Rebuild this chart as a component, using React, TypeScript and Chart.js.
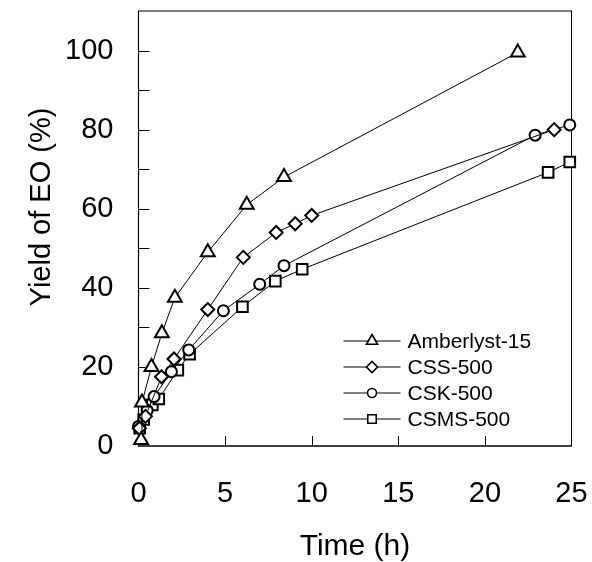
import React, { useEffect, useRef } from 'react';
import { Chart, registerables } from 'chart.js';
import { drawPoint } from 'chart.js/helpers';

Chart.register(...registerables);

const seriesNames = ['Amberlyst-15', 'CSS-500', 'CSK-500', 'CSMS-500'];
const seriesStyles = ['triangle', 'rectRot', 'circle', 'rect'];
const seriesRadius = [8, 6.5, 5.5, 7.5];
const legendRadius = [6.5, 5.5, 4.5, 6];

const amberlystTime = [0.15, 0.2, 0.75, 1.35, 2.1, 4.0, 6.25, 8.4, 21.9];
const amberlystYield = [1.5, 11, 20, 28.5, 37.5, 49, 61, 68, 99.5];

const cssTime = [0.05, 0.4, 1.33, 2.05, 4.0, 6.05, 7.95, 9.05, 10.0, 24.0];
const cssYield = [4.5, 7.5, 17.5, 22, 34.5, 47.7, 54, 56.2, 58.3, 80];

const cskTime = [0.0, 0.5, 0.9, 1.9, 2.9, 4.9, 7.0, 8.4, 22.9, 24.9];
const cskYield = [4.9, 9, 12.5, 18.8, 24.3, 34.2, 40.9, 45.6, 78.6, 81.2];

const csmsTime = [0.07, 0.3, 0.8, 1.17, 2.27, 2.95, 6.0, 7.9, 9.45, 23.65, 24.9];
const csmsYield = [4.5, 6.7, 10.4, 11.9, 19.2, 23.2, 35.2, 41.7, 44.7, 69.2, 71.8];

const xTicks = [0, 5, 10, 15, 20, 25];
const yLabelTicks = [0, 20, 40, 60, 80, 100];
const yTitle = 'Yield of EO (%)';
const xTitle = 'Time (h)';

const FONT = "'Liberation Sans', Arial, sans-serif";

const toPoints = (t: number[], v: number[]) => t.map((x, i) => ({ x, y: v[i] }));

const zeroPad = (s: any) => {
  s.paddingTop = 0;
  s.paddingBottom = 0;
  s.paddingLeft = 0;
  s.paddingRight = 0;
};

const decorPlugin = {
  id: 'decor',
  beforeDatasetsDraw(chart: any) {
    const { ctx, chartArea } = chart;
    const xs = chart.scales.x;
    const ys = chart.scales.y;
    ctx.save();
    ctx.strokeStyle = '#000';
    ctx.lineWidth = 1;
    ctx.strokeRect(chartArea.left, chartArea.top, chartArea.right - chartArea.left, chartArea.bottom - chartArea.top);
    ctx.lineWidth = 1.2;
    ctx.beginPath();
    ctx.moveTo(chartArea.left, chartArea.top);
    ctx.lineTo(chartArea.left, chartArea.bottom);
    ctx.lineTo(chartArea.right, chartArea.bottom);
    ctx.stroke();
    ctx.lineWidth = 1;
    ctx.beginPath();
    for (let v = 10; v <= 100; v += 10) {
      const py = Math.round(ys.getPixelForValue(v)) + 0.5;
      ctx.moveTo(chartArea.left, py);
      ctx.lineTo(chartArea.left + 11, py);
    }
    for (let v = 5; v <= 20; v += 5) {
      const px = Math.round(xs.getPixelForValue(v)) + 0.5;
      ctx.moveTo(px, chartArea.bottom);
      ctx.lineTo(px, chartArea.bottom - 10);
    }
    ctx.stroke();
    ctx.restore();
  },
  afterDraw(chart: any) {
    const { ctx, chartArea } = chart;
    ctx.save();
    ctx.fillStyle = '#000';
    ctx.font = `29px ${FONT}`;
    ctx.textAlign = 'center';
    ctx.textBaseline = 'middle';
    ctx.translate(42, 207);
    ctx.rotate(-Math.PI / 2);
    ctx.fillText(yTitle, 0, 0);
    ctx.restore();

    ctx.save();
    const lx0 = chartArea.left + 205;
    const lx1 = lx0 + 57;
    const mx = (lx0 + lx1) / 2;
    const top = 341;
    chart.data.datasets.forEach((ds: any, i: number) => {
      const y = top + i * 26;
      ctx.strokeStyle = '#000';
      ctx.lineWidth = 1;
      ctx.beginPath();
      ctx.moveTo(lx0, y);
      ctx.lineTo(lx1, y);
      ctx.stroke();
      ctx.fillStyle = '#fff';
      ctx.lineWidth = 1.6;
      drawPoint(ctx, { pointStyle: ds.pointStyle, radius: legendRadius[i], borderWidth: 1.6, rotation: 0 } as any, mx, y);
      ctx.fillStyle = '#000';
      ctx.font = `21px ${FONT}`;
      ctx.textAlign = 'left';
      ctx.textBaseline = 'middle';
      ctx.fillText(ds.label, lx1 + 7, y + 1);
    });
    ctx.restore();
  },
};

export default function App() {
  const ref = useRef<HTMLCanvasElement>(null);
  useEffect(() => {
    document.body.style.margin = '0';
    const datasets = [
      toPoints(amberlystTime, amberlystYield),
      toPoints(cssTime, cssYield),
      toPoints(cskTime, cskYield),
      toPoints(csmsTime, csmsYield),
    ].map((data, i) => ({
      label: seriesNames[i],
      data,
      pointStyle: seriesStyles[i],
      pointRadius: seriesRadius[i],
      pointBorderWidth: 2,
      pointBackgroundColor: '#fff',
      pointBorderColor: '#000',
      borderColor: '#000',
      borderWidth: 1,
      backgroundColor: '#fff',
      showLine: true,
      tension: 0,
      clip: false as any,
    }));
    const chart = new Chart(ref.current as HTMLCanvasElement, {
      type: 'scatter',
      data: { datasets: datasets as any },
      options: {
        animation: false,
        responsive: false,
        maintainAspectRatio: false,
        layout: { padding: { top: 11, right: 20.5, left: 0, bottom: 0 } },
        plugins: { legend: { display: false }, tooltip: { enabled: false } },
        scales: {
          x: {
            type: 'linear',
            min: 0,
            max: 25,
            afterFit: (s: any) => { s.height = 116; zeroPad(s); },
            afterBuildTicks: (s: any) => { s.ticks = xTicks.map((v) => ({ value: v })); },
            grid: { display: false, drawTicks: false },
            border: { display: false },
            ticks: { color: '#000', font: { family: FONT, size: 29 }, padding: 31, maxRotation: 0 },
            title: { display: true, text: xTitle, color: '#000', font: { family: FONT, size: 30, lineHeight: 1 }, padding: { top: 0, bottom: 0 } },
          },
          y: {
            type: 'linear',
            min: 0,
            max: 110,
            afterFit: (s: any) => { s.width = 138.5; zeroPad(s); },
            afterBuildTicks: (s: any) => { s.ticks = yLabelTicks.map((v) => ({ value: v })); },
            grid: { display: false, drawTicks: false },
            border: { display: false },
            ticks: { color: '#000', font: { family: FONT, size: 29 }, padding: 25 },
          },
        },
      },
      plugins: [decorPlugin],
    });
    return () => chart.destroy();
  }, []);
  return (
    <div style={{ width: 592, height: 562 }}>
      <canvas ref={ref} width={592} height={562} />
    </div>
  );
}
